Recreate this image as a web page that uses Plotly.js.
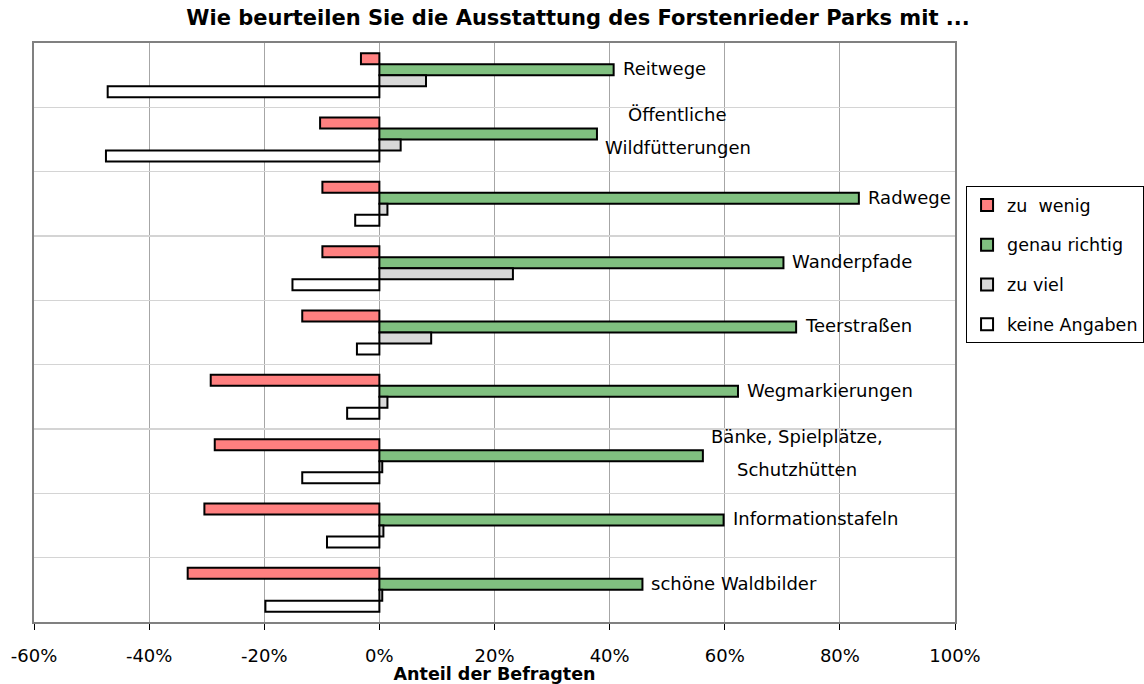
<!DOCTYPE html>
<html>
<head>
<meta charset="utf-8">
<script src="https://cdn.plot.ly/plotly-3.0.1.min.js"></script>
<style>html,body{margin:0;padding:0;background:#fff;}#chart{width:1144px;height:684px;}</style>
</head>
<body>
<div id="chart"></div>
<script>
// ---- data (percent of respondents) ----
const categories = ["Reitwege", "Öffentliche Wildfütterungen", "Radwege", "Wanderpfade", "Teerstraßen",
  "Wegmarkierungen", "Bänke, Spielplätze, Schutzhütten", "Informationstafeln", "schöne Waldbilder"];
const labelLines = [["Reitwege"], ["Öffentliche", "Wildfütterungen"], ["Radwege"], ["Wanderpfade"], ["Teerstraßen"],
  ["Wegmarkierungen"], ["Bänke, Spielplätze,", "Schutzhütten"], ["Informationstafeln"], ["schöne Waldbilder"]];
const zuWenig      = [-3.2, -10.3, -9.9, -9.9, -13.4, -29.3, -28.6, -30.4, -33.3];
const genauRichtig = [40.7, 37.8, 83.3, 70.2, 72.4, 62.3, 56.2, 59.8, 45.7];
const zuViel       = [8.1, 3.7, 1.4, 23.2, 9.0, 1.4, 0.5, 0.7, 0.5];
const keineAngaben = [-47.2, -47.5, -4.2, -15.1, -3.9, -5.6, -13.4, -9.1, -19.8];
const seriesNames  = ["zu  wenig", "genau richtig", "zu viel", "keine Angaben"];
const xTickVals    = [-60, -40, -20, 0, 20, 40, 60, 80, 100];
const xTickText    = xTickVals.map(v => v + "%");

// ---- styling ----
const FONT = "'DejaVu Sans', 'Liberation Sans', Arial, sans-serif";
const colors = ["#FF8080", "#80C080", "#D8D8D8", "#FFFFFF"];
const margin = {l: 34, r: 189, t: 43, b: 62, autoexpand: false};
const W = 1144, H = 684;
const bargap = 0.316;
const labelSize = 18;

const seriesData = [zuWenig, genauRichtig, zuViel, keineAngaben];
const traces = seriesData.map((vals, k) => ({
  type: "bar", orientation: "h",
  name: seriesNames[k], legendgroup: "g" + k,
  x: vals, y: categories,
  marker: {color: colors[k], line: {color: "#000", width: 2}},
  hoverinfo: "x+y+name"
}));

// geometry of the green bar inside a category slot (for positioning labels)
const plotH = H - margin.t - margin.b;
const slotPx = plotH / categories.length;
const groupPx = slotPx * (1 - bargap);
const barPx = groupPx / 4;
const greenShift = groupPx / 2 - 1.5 * barPx;

const ctx = document.createElement("canvas").getContext("2d");
ctx.font = labelSize + "px " + FONT;

const annotations = [];
labelLines.forEach((lines, i) => {
  if (lines.length === 1) {
    annotations.push({
      x: genauRichtig[i], y: categories[i], xref: "x", yref: "y",
      text: lines[0], showarrow: false, xanchor: "left", yanchor: "middle",
      xshift: 7, yshift: greenShift + 1,
      font: {family: FONT, size: labelSize, color: "#000"}
    });
  } else {
    const w = Math.max(...lines.map(t => ctx.measureText(t).width));
    lines.forEach((t, j) => {
      annotations.push({
        x: genauRichtig[i], y: categories[i], xref: "x", yref: "y",
        text: t, showarrow: false, xanchor: "center", yanchor: "middle",
        xshift: 8 + w / 2, yshift: greenShift + 2.5 + (j === 0 ? 16.5 : -16.5),
        font: {family: FONT, size: labelSize, color: "#000"}
      });
    });
  }
});

const layout = {
  width: W, height: H, margin: margin,
  paper_bgcolor: "#fff", plot_bgcolor: "#fff",
  font: {family: FONT, color: "#000", size: 18},
  barmode: "group", bargap: bargap, bargroupgap: 0,
  title: {
    text: "<b>Wie beurteilen Sie die Ausstattung des Forstenrieder Parks mit ...</b>",
    font: {family: FONT, size: 21, color: "#000"},
    x: 578 / W, xref: "container", xanchor: "center",
    y: 1 - 18 / H, yref: "container", yanchor: "middle"
  },
  xaxis: {
    range: [-60, 100], tickmode: "array", tickvals: xTickVals, ticktext: xTickText,
    ticks: "outside", ticklen: 6, tickcolor: "#000", tickwidth: 1,
    showgrid: true, gridcolor: "#A6A6A6", gridwidth: 1,
    zeroline: false,
    showline: true, linecolor: "#808080", linewidth: 2, mirror: true,
    tickfont: {family: FONT, size: 18, color: "#000"},
    ticklabelstandoff: 10,
    title: {text: "<b>Anteil der Befragten</b>", font: {family: FONT, size: 17.5, color: "#000"}, standoff: 0},
    automargin: false, fixedrange: true
  },
  yaxis: {
    type: "category", autorange: "reversed",
    showticklabels: false, ticks: "", tickson: "boundaries",
    showgrid: true, gridcolor: "#D4D4D4", gridwidth: 1.5,
    zeroline: false,
    showline: true, linecolor: "#808080", linewidth: 2, mirror: true,
    automargin: false, fixedrange: true
  },
  legend: {
    x: 1.012, y: 0.753, xanchor: "left", yanchor: "top",
    bordercolor: "#000", borderwidth: 1, bgcolor: "#fff",
    font: {family: FONT, size: 17.5, color: "#000"},
    traceorder: "grouped", tracegroupgap: 14
  },
  annotations: annotations
};

Plotly.newPlot("chart", traces, layout, {displayModeBar: false, staticPlot: true});
</script>
</body>
</html>
